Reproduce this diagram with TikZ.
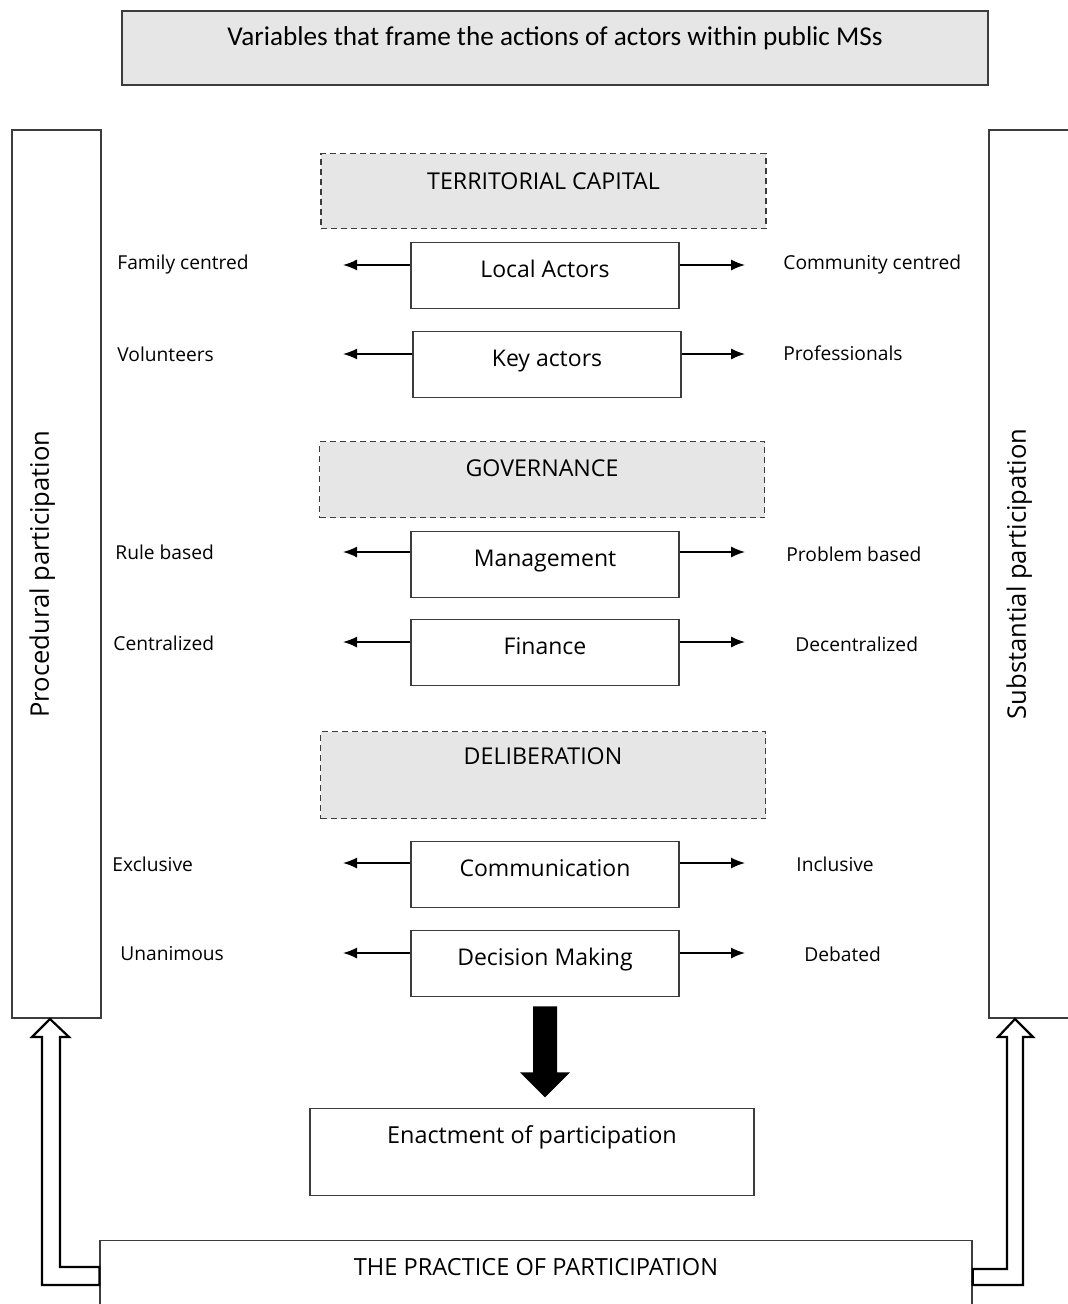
\documentclass[tikz,border=0pt]{standalone}
\usepackage{fontspec}
\setmainfont{Open Sans}
\newfontfamily\titlefont{Carlito}
\usepackage{tikz}
\usetikzlibrary{arrows.meta}
\usetikzlibrary{positioning}
\usetikzlibrary{calc}

\definecolor{boxgray}{RGB}{230,230,230}
\definecolor{edgegray}{RGB}{60,60,60}

\begin{document}
\begin{tikzpicture}[x=0.5pt,y=-0.5pt,every node/.style={inner sep=0pt},
  varbox/.style={draw=edgegray,line width=0.65pt,anchor=north,minimum width=134pt,text height=17.5pt,text depth=15.5pt,font=\fontsize{11.5}{14}\selectfont},
  catbox/.style={draw=edgegray,line width=0.65pt,dash pattern=on 3pt off 2pt,fill=boxgray,anchor=north,minimum width=222.5pt,font=\fontsize{11.6}{14}\selectfont},
  sidebox/.style={draw=edgegray,line width=0.75pt,rotate=90,anchor=north,minimum width=444pt,text height=18.5pt,text depth=26pt,font=\fontsize{12.8}{15}\selectfont},
  pole/.style={anchor=west,font=\fontsize{9.6}{11}\selectfont},
  spread/.style={-{Latex[length=7pt,width=5.5pt]},line width=0.75pt},
  hollow/.style={line width=1.1pt,line join=miter,fill=white}]
  \useasboundingbox (0,0) rectangle (1067,1304);

  \node[draw=edgegray,line width=0.9pt,fill=boxgray,anchor=north,minimum width=433pt,text height=17.5pt,text depth=19.5pt,font=\titlefont\fontsize{13.6}{16}\selectfont] (title) at (555,10) {Variables that frame the actions of actors within public MSs};

  \node[sidebox] (proc) at (11,574) {Procedural participation};
  \node[sidebox] (subs) at (988,574) {Substantial participation};

  \node[catbox,text height=18pt,text depth=19.5pt] (terr) at (543.5,153) {TERRITORIAL CAPITAL};
  \node[varbox] (la) at (545,242) {Local Actors};
  \node[varbox] (ka) at (547,331) {Key actors};
  \node[catbox,text height=17.5pt,text depth=20.5pt] (gov) at (542,441) {GOVERNANCE};
  \node[varbox] (mg) at (545,531) {Management};
  \node[varbox] (fi) at (545,619) {Finance};
  \node[catbox,text height=16.5pt,text depth=27pt] (delib) at (543,731) {DELIBERATION};
  \node[varbox] (co) at (545,841) {Communication};
  \node[varbox] (dm) at (545,930) {Decision Making};

  \node[pole] (fam) at (117,265) {Family centred};
  \node[pole] (comm) at (783,265) {Community centred};
  \node[pole] (vol) at (117,354) {Volunteers};
  \node[pole] (prof) at (783,353) {Professionals};
  \node[pole] (rule) at (115,552) {Rule based};
  \node[pole] (prob) at (786,554) {Problem based};
  \node[pole] (cent) at (113,643) {Centralized};
  \node[pole] (dec) at (795,644) {Decentralized};
  \node[pole] (excl) at (112,864) {Exclusive};
  \node[pole] (incl) at (796,864) {Inclusive};
  \node[pole] (unan) at (120,954) {Unanimous};
  \node[pole] (deb) at (804,954) {Debated};

  % arrows out of each variable
  \foreach \n/\y in {la/265,ka/354,mg/552,fi/642,co/863,dm/953}{
    \coordinate (\n-w) at (343,\y);
    \coordinate (\n-e) at (745,\y);
    \draw[spread] (\n.west |- \n-w) -- (\n-w);
    \draw[spread] (\n.east |- \n-e) -- (\n-e);
  }

  \node[draw=edgegray,line width=0.65pt,anchor=north,minimum width=222pt,text height=17.5pt,text depth=26pt,font=\fontsize{11.7}{14}\selectfont] (enact) at (532,1108) {Enactment of participation};
  \node[draw=edgegray,line width=0.65pt,anchor=north,minimum width=436pt,text height=17.5pt,text depth=30pt,font=\fontsize{11.8}{14}\selectfont] (prac) at (536,1240) {THE PRACTICE OF PARTICIPATION};

  \fill (dm.south) ++(-12,9) -- ++(24,0) -- ++(0,66) -- ++(13,0) -- ++(-25,25) -- ++(-25,-25) -- ++(13,0) -- cycle;

  \draw[hollow] (50,1019) -- ++(19,18) -- ++(-9,0) |- ([yshift=-13.5pt]prac.north west) -- ++(0,18) -| (42,1037) -- ++(-10,0) -- cycle;
  \draw[hollow] (1015,1019) -- ++(18,18) -- ++(-10,0) |- ([yshift=-22.5pt]prac.north east) -- ++(0,-16) -| (1007,1037) -- ++(-9,0) -- cycle;
\end{tikzpicture}
\end{document}
